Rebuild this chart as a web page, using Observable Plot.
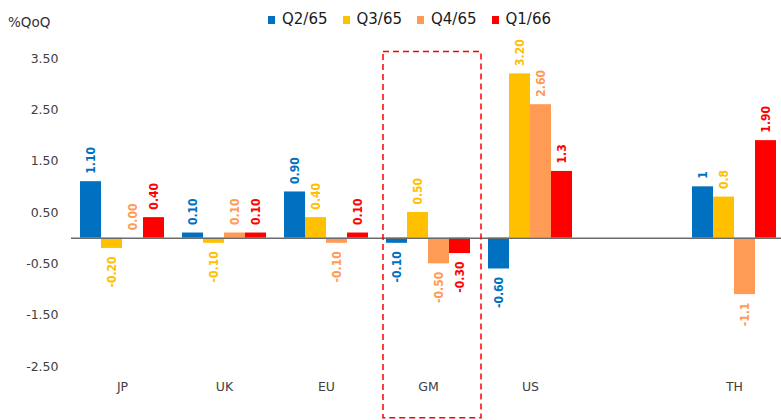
<!DOCTYPE html>
<html><head><meta charset="utf-8">
<script src="https://cdn.jsdelivr.net/npm/d3@7"></script>
<script src="https://cdn.jsdelivr.net/npm/@observablehq/plot@0.6"></script>
<style>
html,body{margin:0;padding:0;background:#fff;overflow:hidden;width:781px;height:420px}
#head{position:relative;height:36px;font-family:"DejaVu Sans",sans-serif;color:#333}
#unit{position:absolute;left:8px;top:13px;font-size:13.5px;line-height:18px}
#legend{position:absolute;left:268px;top:10px;display:flex;align-items:center;font-size:15px;line-height:19px;color:#1a1a1a}
.item{display:flex;align-items:center;margin-right:15px}
.sw{width:7px;height:8px;margin-right:7px}
#chart svg{max-width:none !important}
</style></head><body>
<div id="head"><div id="unit">%QoQ</div><div id="legend"></div></div>
<div id="chart"></div>
<script>
const categories = ["JP","UK","EU","GM","US","","TH"];
const seriesNames = ["Q2/65","Q3/65","Q4/65","Q1/66"];
const seriesColors = ["#0070C0","#FFC000","#FF9B55","#FF0000"];
const q2_65 = [1.10, 0.10, 0.90, -0.10, -0.60, null, 1.0];
const q3_65 = [-0.20, -0.10, 0.40, 0.50, 3.20, null, 0.8];
const q4_65 = [0.00, 0.10, -0.10, -0.50, 2.60, null, -1.1];
const q1_66 = [0.40, 0.10, 0.10, -0.30, 1.3, null, 1.90];
const q2_65Labels = ["1.10","0.10","0.90","-0.10","-0.60","","1"];
const q3_65Labels = ["-0.20","-0.10","0.40","0.50","3.20","","0.8"];
const q4_65Labels = ["0.00","0.10","-0.10","-0.50","2.60","","-1.1"];
const q1_66Labels = ["0.40","0.10","0.10","-0.30","1.3","","1.90"];
const yTicks = [-2.5,-1.5,-0.5,0.5,1.5,2.5,3.5];
const baseline = 0;
const highlighted = ["GM"];
const highlightSpan = [-3.51, 3.625];

const seriesValues = [q2_65, q3_65, q4_65, q1_66];
const seriesLabels = [q2_65Labels, q3_65Labels, q4_65Labels, q1_66Labels];
const rows = [];
categories.forEach((cat, i) => {
  seriesNames.forEach((s, j) => {
    rows.push({cat, series: s, value: seriesValues[j][i], label: seriesLabels[j][i]});
  });
});
const valid = rows.filter(d => d.value != null);

// legend
const legend = document.getElementById("legend");
seriesNames.forEach((s, j) => {
  const it = document.createElement("div"); it.className = "item";
  const sw = document.createElement("span"); sw.className = "sw"; sw.style.background = seriesColors[j];
  const tx = document.createElement("span"); tx.textContent = s;
  it.appendChild(sw); it.appendChild(tx); legend.appendChild(it);
});

const labelFont = {fontFamily: "'DejaVu Sans Condensed', 'DejaVu Sans', sans-serif", fontSize: 12, fontWeight: "bold"};

const chart = Plot.plot({
  width: 790,
  height: 384,
  marginLeft: 68,
  marginRight: 3,
  marginTop: 22,
  marginBottom: 54,
  style: {fontFamily: "'DejaVu Sans', sans-serif", fontSize: "12.5px", color: "#404040", background: "#fff", overflow: "visible"},
  fx: {domain: categories, padding: 0, axis: "bottom", label: null, tickSize: 0, tickPadding: 16},
  x: {domain: seriesNames, paddingInner: 0, paddingOuter: 0.33, axis: null},
  y: {domain: [-2.5, 3.5], ticks: yTicks, tickFormat: d => d.toFixed(2), tickSize: 0, tickPadding: 13, label: null},
  color: {domain: seriesNames, range: seriesColors},
  marks: [
    Plot.barY(valid, {fx: "cat", x: "series", y: "value", fill: "series", inset: 0}),
    Plot.ruleY(categories, {fx: d => d, y: () => baseline, stroke: "#6b6b6b", strokeWidth: 1.5}),
    Plot.text(valid.filter(d => d.value >= 0), {fx: "cat", x: "series", y: "value", text: "label", fill: "series", rotate: -90, textAnchor: "start", dy: -8, ...labelFont}),
    Plot.text(valid.filter(d => d.value < 0), {fx: "cat", x: "series", y: "value", text: "label", fill: "series", rotate: -90, textAnchor: "end", dy: 8, ...labelFont}),
    Plot.rect(highlighted, {fx: d => d, y1: highlightSpan[0], y2: highlightSpan[1], fill: "none", stroke: "#FF0000", strokeWidth: 1.5, strokeDasharray: "6,4", insetLeft: 6, insetRight: -2})
  ]
});
document.getElementById("chart").appendChild(chart);
</script>
</body></html>
